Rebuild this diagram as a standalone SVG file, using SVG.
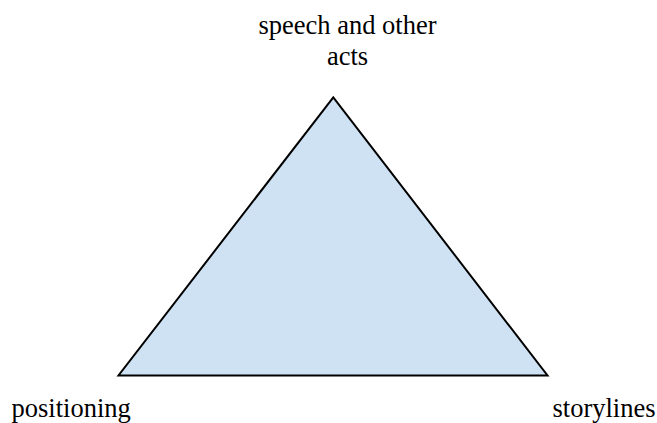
<svg xmlns="http://www.w3.org/2000/svg" width="657" height="423" viewBox="0 0 657 423">
<style>
text{font-family:'Liberation Serif','Times New Roman',Times,serif;font-size:26.5px;fill:#000}
</style>
<rect width="657" height="423" fill="#fff"/>
<g id="triangle">
<polygon points="333.3,97.3 118.5,375.5 547.5,375.5" fill="#cfe2f3" stroke="#000" stroke-width="2"/>
</g>
<g id="label-top">
<text x="347.5" y="34" text-anchor="middle">speech and other</text>
<text x="347.5" y="65" text-anchor="middle">acts</text>
</g>
<g id="label-left">
<text x="11.5" y="417">positioning</text>
</g>
<g id="label-right">
<text x="552.5" y="417">storylines</text>
</g>
</svg>
